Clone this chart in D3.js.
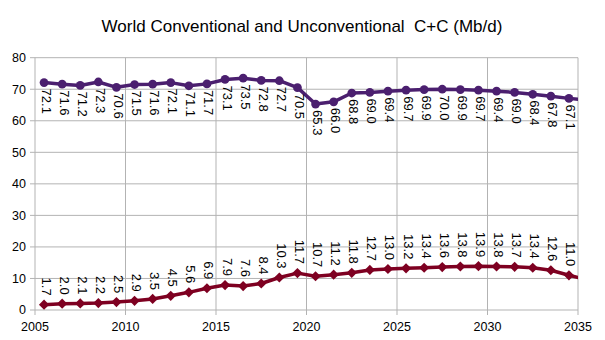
<!DOCTYPE html>
<html>
  <head>
    <title>World Conventional and Unconventional C+C</title>
    <script src="https://d3js.org/d3.v7.min.js"></script>
    <style>
      body { margin: 0; background: #fff; }
      text { font-family: "Liberation Sans", Arial, sans-serif; fill: #000; }
    </style>
  </head>
  <body>
    <svg width="605" height="340"></svg>

    <script type="text/javascript">
      // yearly output, Mb/d (points sit mid-year)
      var years = [2005, 2006, 2007, 2008, 2009, 2010, 2011, 2012, 2013, 2014,
                   2015, 2016, 2017, 2018, 2019, 2020, 2021, 2022, 2023, 2024,
                   2025, 2026, 2027, 2028, 2029, 2030, 2031, 2032, 2033, 2034, 2035];
      var conventional = [72.1, 71.6, 71.2, 72.3, 70.6, 71.5, 71.6, 72.1, 71.1, 71.7,
                          73.1, 73.5, 72.8, 72.7, 70.5, 65.3, 66.0, 68.8, 69.0, 69.4,
                          69.7, 69.9, 70.0, 69.9, 69.7, 69.4, 69.0, 68.4, 67.8, 67.1, 66.5];
      var unconventional = [1.7, 2.0, 2.1, 2.2, 2.5, 2.9, 3.5, 4.5, 5.6, 6.9,
                            7.9, 7.6, 8.4, 10.3, 11.7, 10.7, 11.2, 11.8, 12.7, 13.0,
                            13.2, 13.4, 13.6, 13.8, 13.9, 13.8, 13.7, 13.4, 12.6, 11.0, 9.6];
      var yTicks = [0, 10, 20, 30, 40, 50, 60, 70, 80];
      var xTicks = [2005, 2010, 2015, 2020, 2025, 2030, 2035];

      var svg = d3.select("svg");
      var plotL = 35, plotR = 578, plotT = 57.7, plotB = 310;

      var x = d3.scaleLinear().domain([2005, 2035]).range([plotL, plotR]);
      var y = d3.scaleLinear().domain([0, 80]).range([plotB, plotT]);

      svg.append("text")
        .attr("x", 302)
        .attr("y", 32)
        .attr("text-anchor", "middle")
        .style("font-size", "17px")
        .style("white-space", "pre")
        .text("World Conventional and Unconventional  C+C (Mb/d)");

      // grid
      svg.append("g")
        .selectAll("line")
        .data(yTicks)
        .enter()
        .append("line")
        .attr("x1", plotL - 5)
        .attr("x2", plotR)
        .attr("y1", function (d) { return y(d); })
        .attr("y2", function (d) { return y(d); })
        .attr("stroke", "#b3b3b3");
      svg.append("g")
        .selectAll("line")
        .data(xTicks)
        .enter()
        .append("line")
        .attr("x1", function (d) { return x(d); })
        .attr("x2", function (d) { return x(d); })
        .attr("y1", plotT)
        .attr("y2", plotB + 5)
        .attr("stroke", "#b3b3b3");

      // axis labels
      svg.append("g")
        .selectAll("text")
        .data(yTicks)
        .enter()
        .append("text")
        .attr("x", plotL - 9)
        .attr("y", function (d) { return y(d); })
        .attr("dy", "0.35em")
        .attr("text-anchor", "end")
        .style("font-size", "12.5px")
        .text(function (d) { return d; });
      svg.append("g")
        .selectAll("text")
        .data(xTicks)
        .enter()
        .append("text")
        .attr("x", function (d) { return x(d); })
        .attr("y", 331)
        .attr("text-anchor", "middle")
        .style("font-size", "12.5px")
        .text(function (d) { return d; });

      svg.append("clipPath")
        .attr("id", "plot")
        .append("rect")
        .attr("x", plotL)
        .attr("y", plotT - 10)
        .attr("width", plotR - plotL)
        .attr("height", plotB - plotT + 20);

      var series = [
        { values: conventional, color: "#4b1f6f", marker: d3.symbolCircle, size: 60, turn: 0, below: true },
        { values: unconventional, color: "#7e0021", marker: d3.symbolSquare, size: 52, turn: 45, below: false }
      ];

      series.forEach(function (s) {
        var pts = years.map(function (yr, i) {
          return { year: yr, mid: yr + 0.5, v: s.values[i] };
        });
        var g = svg.append("g").attr("clip-path", "url(#plot)");

        g.append("path")
          .datum(pts)
          .attr("fill", "none")
          .attr("stroke", s.color)
          .attr("stroke-width", 3.5)
          .attr("stroke-linejoin", "round")
          .attr("d", d3.line()
            .x(function (d) { return x(d.mid); })
            .y(function (d) { return y(d.v); }));

        g.selectAll("path.mark")
          .data(pts)
          .enter()
          .append("path")
          .attr("class", "mark")
          .attr("fill", s.color)
          .attr("transform", function (d) {
            return "translate(" + x(d.mid) + "," + y(d.v) + ") rotate(" + s.turn + ")";
          })
          .attr("d", d3.symbol().type(s.marker).size(s.size));

        // value labels, rotated to read downward
        svg.append("g")
          .selectAll("text")
          .data(pts.filter(function (d) { return d.mid < 2035; }))
          .enter()
          .append("text")
          .attr("transform", function (d) {
            return "translate(" + x(d.mid) + "," + y(d.v) + ") rotate(90)";
          })
          .attr("x", s.below ? 6 : -9)
          .attr("y", 2.5)
          .attr("text-anchor", s.below ? "start" : "end")
          .style("font-size", "13px")
          .text(function (d) { return d.v.toFixed(1); });
      });
    </script>
  </body>
</html>
